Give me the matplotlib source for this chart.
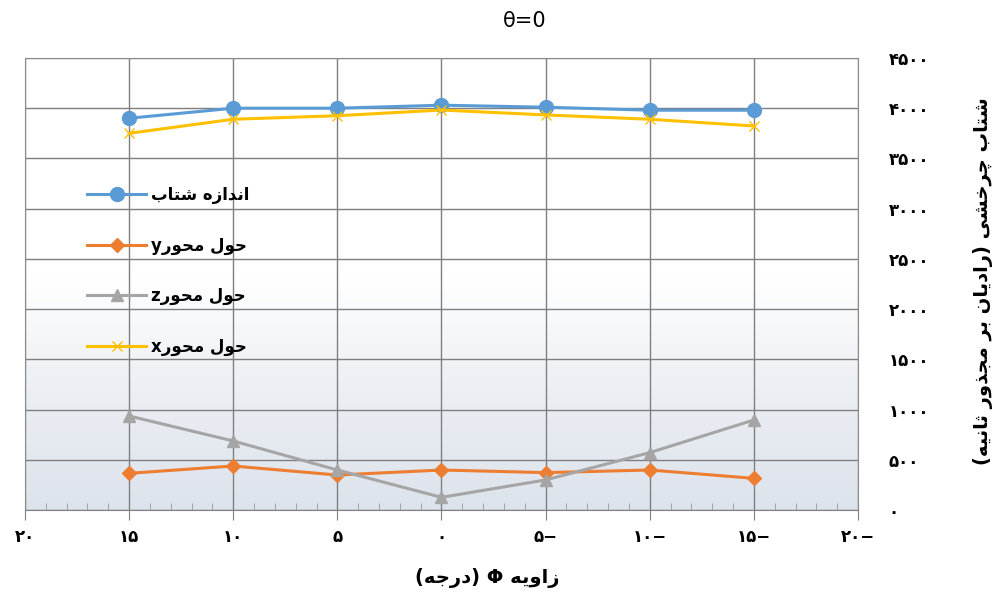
"""
Angular acceleration vs. phi angle at theta = 0
Persian labels are shaped by hand since matplotlib has no bidi support
"""

import matplotlib
matplotlib.use('Agg')
import matplotlib.pyplot as plt
import numpy as np
from matplotlib.ticker import MultipleLocator
from matplotlib.colors import LinearSegmentedColormap

# Data (phi in degrees, acceleration in rad/s^2)
phi = [15, 10, 5, 0, -5, -10, -15]
magnitude = [3900, 4000, 4000, 4030, 4010, 3980, 3980]
about_y = [365, 438, 348, 398, 372, 398, 315]
about_z = [936, 687, 398, 126, 299, 571, 896]
about_x = [3750, 3890, 3925, 3982, 3933, 3890, 3823]

x_ticks = [20, 15, 10, 5, 0, -5, -10, -15, -20]
y_ticks = [0, 500, 1000, 1500, 2000, 2500, 3000, 3500, 4000, 4500]

labels = ['اندازه شتاب', 'حول محورy', 'حول محورz', 'حول محورx']
x_title = 'زاویه Φ (درجه)'
y_title = 'شتاب چرخشی (رادیان بر مجذور ثانیه)'
chart_title = 'θ=0'

# Arabic presentation forms: isolated, final, initial, medial
FORMS = {
    'ا': (0xFE8D, 0xFE8E, None, None),
    'ب': (0xFE8F, 0xFE90, 0xFE91, 0xFE92),
    'ت': (0xFE95, 0xFE96, 0xFE97, 0xFE98),
    'ث': (0xFE99, 0xFE9A, 0xFE9B, 0xFE9C),
    'ج': (0xFE9D, 0xFE9E, 0xFE9F, 0xFEA0),
    'ح': (0xFEA1, 0xFEA2, 0xFEA3, 0xFEA4),
    'خ': (0xFEA5, 0xFEA6, 0xFEA7, 0xFEA8),
    'د': (0xFEA9, 0xFEAA, None, None),
    'ذ': (0xFEAB, 0xFEAC, None, None),
    'ر': (0xFEAD, 0xFEAE, None, None),
    'ز': (0xFEAF, 0xFEB0, None, None),
    'ش': (0xFEB5, 0xFEB6, 0xFEB7, 0xFEB8),
    'ل': (0xFEDD, 0xFEDE, 0xFEDF, 0xFEE0),
    'م': (0xFEE1, 0xFEE2, 0xFEE3, 0xFEE4),
    'ن': (0xFEE5, 0xFEE6, 0xFEE7, 0xFEE8),
    'ه': (0xFEE9, 0xFEEA, 0xFEEB, 0xFEEC),
    'و': (0xFEED, 0xFEEE, None, None),
    'ی': (0xFEEF, 0xFEF0, 0xFEF3, 0xFEF4),
    'چ': (0xFB7A, 0xFB7B, 0xFB7C, 0xFB7D),
}
MIRROR = {'(': ')', ')': '('}


def joins_forward(ch):
    return ch in FORMS and FORMS[ch][2] is not None


def rtl(text):
    """Shape Persian letters and return the string in visual order"""
    out = []
    for i, ch in enumerate(text):
        if ch not in FORMS:
            out.append(MIRROR.get(ch, ch))
            continue
        prev = text[i - 1] if i > 0 else ''
        nxt = text[i + 1] if i + 1 < len(text) else ''
        after = joins_forward(prev)
        before = joins_forward(ch) and nxt in FORMS
        iso, fin, ini, med = FORMS[ch]
        if after and before:
            code = med
        elif after:
            code = fin
        elif before:
            code = ini
        else:
            code = iso
        out.append(chr(code))
    return ''.join(reversed(out))


def fa_num(v):
    digits = ''.join(chr(0x06F0 + int(d)) for d in str(abs(v)))
    return digits + ('−' if v < 0 else '')


fig = plt.figure(figsize=(9.95, 5.99), dpi=100)
ax = fig.add_axes([0.0251, 0.1486, 0.8372, 0.7546])

# Soft blue-grey shading towards the bottom of the plot area
cmap = LinearSegmentedColormap.from_list('shade', ['#dde3ec', '#ebeef3', '#ffffff'])
grad = np.linspace(0, 1, 256).reshape(-1, 1)
ax.imshow(grad, cmap=cmap, aspect='auto', origin='lower',
          extent=[20, -20, 0, 2300], zorder=0)

ax.plot(phi, magnitude, color='#5B9BD5', lw=2.2, marker='o', ms=10,
        label=rtl(labels[0]), zorder=5)
ax.plot(phi, about_y, color='#ED7D31', lw=2.2, marker='D', ms=7,
        label=rtl(labels[1]), zorder=5)
ax.plot(phi, about_z, color='#A5A5A5', lw=2.2, marker='^', ms=8,
        label=rtl(labels[2]), zorder=5)
ax.plot(phi, about_x, color='#FFC000', lw=2.2, marker='x', ms=7, mew=1,
        label=rtl(labels[3]), zorder=5)

ax.set_xlim(20, -20)
ax.set_ylim(0, 4500)
ax.set_xticks(x_ticks)
ax.set_xticklabels([fa_num(v) for v in x_ticks], fontsize=12, fontweight='bold')
ax.xaxis.set_minor_locator(MultipleLocator(1))
ax.set_yticks(y_ticks)
ax.set_yticklabels([fa_num(v) for v in y_ticks], fontsize=12, fontweight='bold')
ax.yaxis.tick_right()
ax.tick_params(axis='y', length=0, pad=22)
ax.tick_params(axis='x', which='major', length=7, color='#7f7f7f', pad=6)
ax.tick_params(axis='x', which='minor', direction='in', length=5, color='#9a9a9a')

ax.grid(True, color='#7f7f7f', lw=1, zorder=1)
ax.set_axisbelow(True)
for side in ['top', 'left', 'right']:
    ax.spines[side].set_color('#8c8c8c')
ax.spines['bottom'].set_color('#7f7f7f')

leg = ax.legend(loc='upper left', bbox_to_anchor=(0.065, 0.735), frameon=False,
                prop={'size': 12, 'weight': 'bold'}, handlelength=3.5,
                handletextpad=0.3, labelspacing=1.95, borderpad=0)

fig.text(0.527, 0.965, chart_title, ha='center', va='center', fontsize=15)
fig.text(0.988, 0.53, rtl(y_title), rotation=90, ha='center', va='center',
         fontsize=14, fontweight='bold')
fig.text(0.49, 0.035, rtl(x_title), ha='center', va='center', fontsize=14,
         fontweight='bold')

plt.savefig('out.png', dpi=100)
plt.close()
